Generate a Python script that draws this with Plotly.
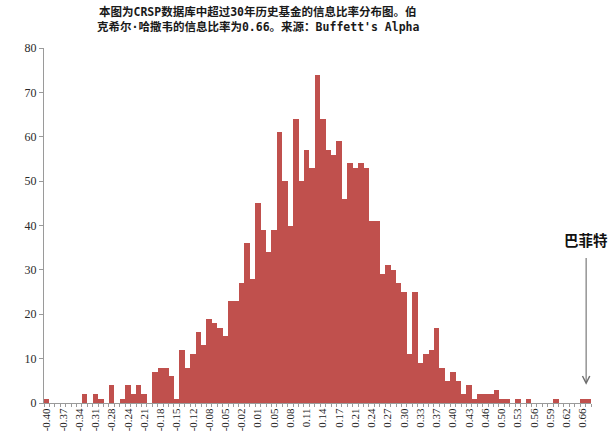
import plotly.graph_objects as go

# ============================================================
# 数据：信息比率分布（每根柱子一个区间的基金数量）
# ============================================================
counts = [
    1, 0, 0, 0, 0, 0, 0, 2, 0, 2,
    1, 0, 4, 0, 1, 4, 2, 4, 2, 0,
    7, 8, 8, 6, 1, 12, 8, 11, 16, 13,
    19, 18, 17, 15, 23, 23, 27, 36, 28, 45,
    39, 34, 39, 61, 50, 40, 64, 50, 57, 53,
    74, 64, 57, 56, 59, 46, 54, 53, 54, 53,
    41, 41, 29, 31, 30, 27, 25, 11, 25, 9,
    11, 12, 17, 8, 5, 7, 5, 2, 4, 1,
    2, 2, 2, 3, 1, 1, 0, 1, 0, 1,
    0, 0, 0, 0, 1, 0, 0, 0, 0, 1,
    1,
]

tick_labels = [
    "-0.40", "-0.37", "-0.34", "-0.31", "-0.28", "-0.24", "-0.21", "-0.18",
    "-0.15", "-0.12", "-0.08", "-0.05", "-0.02", "0.01", "0.05", "0.08",
    "0.11", "0.14", "0.17", "0.21", "0.24", "0.27", "0.30", "0.33",
    "0.37", "0.40", "0.43", "0.46", "0.50", "0.53", "0.56", "0.59",
    "0.62", "0.66",
]

title_lines = [
    "本图为CRSP数据库中超过30年历史基金的信息比率分布图。伯",
    "克希尔·哈撒韦的信息比率为0.66。来源：Buffett's Alpha",
]

buffett_label = "巴菲特"
buffett_ratio_bin = 99.6   # 箭头所指的位置（柱序号）

BAR_COLOR = "#C0504D"
AXIS_COLOR = "#9a9a9a"
SERIF = "Liberation Serif, Times New Roman, serif"
TITLE_FONT = "DejaVu Sans Mono, Noto Sans CJK SC"

x = list(range(len(counts)))

fig = go.Figure()
fig.add_trace(go.Bar(
    x=x,
    y=counts,
    marker=dict(color=BAR_COLOR, line=dict(width=0)),
    hoverinfo="y",
))

# ── 标题（两行，偏左居中） ──
for text, ypos in zip(title_lines, [1.101, 1.059]):
    fig.add_annotation(
        x=0.392, y=ypos, xref="paper", yref="paper",
        text=f"<b>{text}</b>", showarrow=False,
        xanchor="center", yanchor="middle",
        font=dict(family=TITLE_FONT, size=11.5, color="#1a1a1a"),
    )

# ── 巴菲特箭头 ──
fig.add_annotation(
    x=buffett_ratio_bin, y=4.1, ax=buffett_ratio_bin, ay=33,
    xref="x", yref="y", axref="x", ayref="y",
    text="", showarrow=True,
    arrowhead=5, arrowsize=1.3, arrowwidth=1.1, arrowcolor="#6e6e6e",
)
fig.add_annotation(
    x=buffett_ratio_bin, y=36.8, xref="x", yref="y",
    text=f"<b>{buffett_label}</b>", showarrow=False,
    font=dict(family="Noto Sans CJK SC", size=14.5, color="#111111"),
    xanchor="center", yanchor="middle",
)

fig.update_layout(
    width=612,
    height=447,
    margin=dict(l=44, r=21, t=48, b=44),
    paper_bgcolor="white",
    plot_bgcolor="white",
    bargap=0,
    showlegend=False,
)

fig.update_xaxes(
    range=[-0.5, len(counts) - 0.5],
    tickmode="array",
    tickvals=x[::3],
    ticktext=tick_labels,
    tickangle=-90,
    ticks="",
    tickfont=dict(family=SERIF, size=11, color="#222222"),
    showline=True, linecolor=AXIS_COLOR, linewidth=1,
    showgrid=False, zeroline=False,
    minor=dict(tick0=-0.5, dtick=1, ticks="outside", ticklen=3,
               tickcolor=AXIS_COLOR, tickwidth=1, showgrid=False),
)

fig.update_yaxes(
    range=[0, 80],
    tickvals=[0, 10, 20, 30, 40, 50, 60, 70, 80],
    ticks="outside", ticklen=4, tickcolor=AXIS_COLOR,
    tickfont=dict(family=SERIF, size=12, color="#2a2a2a"),
    showline=True, linecolor=AXIS_COLOR, linewidth=1,
    showgrid=False, zeroline=False,
)

# 去掉页面默认的 8px 边距，让图正好铺满窗口；隐藏工具栏
fig.write_html(
    "out.html",
    config={"displayModeBar": False},
    post_script="document.body.style.margin='0';",
)
